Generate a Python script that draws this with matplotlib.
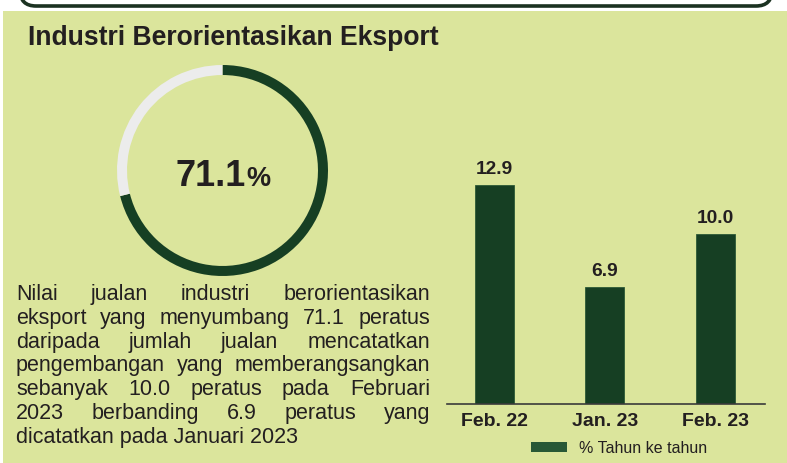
import matplotlib
matplotlib.use("Agg")
import matplotlib.pyplot as plt
from matplotlib.patches import FancyBboxPatch, Rectangle

# ---- data ----
share_label = "71.1"
share_values = [71.1, 28.9]
categories = ["Feb. 22", "Jan. 23", "Feb. 23"]
growth = [12.9, 6.9, 10.0]
value_labels = ["12.9", "6.9", "10.0"]
legend_label = "% Tahun ke tahun"
title = "Industri Berorientasikan Eksport"
paragraph_lines = [
    "Nilai jualan industri berorientasikan",
    "eksport yang menyumbang 71.1 peratus",
    "daripada jumlah jualan mencatatkan",
    "pengembangan yang memberangsangkan",
    "sebanyak 10.0 peratus pada Februari",
    "2023 berbanding 6.9 peratus yang",
    "dicatatkan pada Januari 2023",
]

# ---- styles ----
BG = "#dbe59c"
DARK = "#163f23"
GREY = "#ececec"
TXT = "#231f20"
FONT = "Liberation Sans"
plt.rcParams["font.family"] = [FONT, "DejaVu Sans"]

W, H = 787, 463
fig = plt.figure(figsize=(W / 100, H / 100), dpi=100)
fig.patch.set_facecolor("white")

# pixel canvas
cv = fig.add_axes([0, 0, 1, 1])
cv.set_xlim(0, W)
cv.set_ylim(H, 0)
cv.axis("off")
cv.add_patch(Rectangle((3, 11), W, H, facecolor=BG, edgecolor="none", zorder=0))
cv.add_patch(FancyBboxPatch((20, -80), 752, 86, boxstyle="round,pad=0,rounding_size=16",
                            facecolor="white", edgecolor="#1b3221", lw=2.6, zorder=1))

cv.text(28, 45, title, fontsize=19.1, fontweight="bold", color=TXT, va="baseline", ha="left")

# donut
dax = fig.add_axes([117 / W, 1 - 276 / H, 211 / W, 211 / H])
dax.pie(share_values, colors=[DARK, GREY], startangle=90, counterclock=False,
        wedgeprops=dict(width=0.095, edgecolor="none"))
dax.set_xlim(-1, 1)
dax.set_ylim(-1, 1)
dax.set_aspect("equal")
dax.axis("off")
cv.text(246, 186, share_label, fontsize=26, fontweight="bold", color=TXT, ha="right", va="baseline")
cv.text(246.5, 186, "%", fontsize=19.5, fontweight="bold", color=TXT, ha="left", va="baseline")

# justified paragraph
fig.canvas.draw()
r = fig.canvas.get_renderer()
left, right = 16, 430
y0, dy = 300, 23.8
fs = 15.5
for i, line in enumerate(paragraph_lines):
    y = y0 + i * dy
    words = line.split()
    if i == len(paragraph_lines) - 1:
        cv.text(left, y, line, fontsize=fs, color=TXT, ha="left", va="baseline")
        continue
    texts = [cv.text(0, y, w_, fontsize=fs, color=TXT, ha="left", va="baseline") for w_ in words]
    widths = [t.get_window_extent(r).width for t in texts]
    gap = (right - left - sum(widths)) / (len(words) - 1)
    x = left
    for t, wd in zip(texts, widths):
        t.set_x(x)
        x += wd + gap

# bar chart
bax = fig.add_axes([447 / W, 59 / H, 318 / W, 254 / H])
bax.set_facecolor("none")
xs = range(len(categories))
bars = bax.bar(xs, growth, width=0.353, color=DARK, edgecolor="#2c5a36", linewidth=0.6,
               label=legend_label)
bax.set_xlim(-0.43, 2.45)
bax.set_ylim(0, 254 / 16.98)
for s in ["top", "right", "left"]:
    bax.spines[s].set_visible(False)
bax.spines["bottom"].set_color("#3a3a3a")
bax.spines["bottom"].set_linewidth(1.2)
bax.set_yticks([])
bax.set_xticks(list(xs))
bax.set_xticklabels(categories, fontsize=14, fontweight="bold", color=TXT)
bax.tick_params(axis="x", length=0, pad=6.5)
for b, lab in zip(bars, value_labels):
    bax.annotate(lab, (b.get_x() + b.get_width() / 2, b.get_height()), xytext=(0, 8),
                 textcoords="offset points", ha="center", va="baseline",
                 fontsize=13.8, fontweight="bold", color=TXT)

leg = fig.legend(handles=[bars], loc="center", bbox_to_anchor=(619 / W, 1 - 448.5 / H),
                 frameon=False, fontsize=11.5, handlelength=2.3, handleheight=0.56,
                 handletextpad=0.75, borderpad=0, labelcolor=TXT)
leg.legend_handles[0].set_facecolor("#285836")
leg.legend_handles[0].set_edgecolor("none")

fig.savefig("out.png", dpi=100, facecolor=fig.get_facecolor())
